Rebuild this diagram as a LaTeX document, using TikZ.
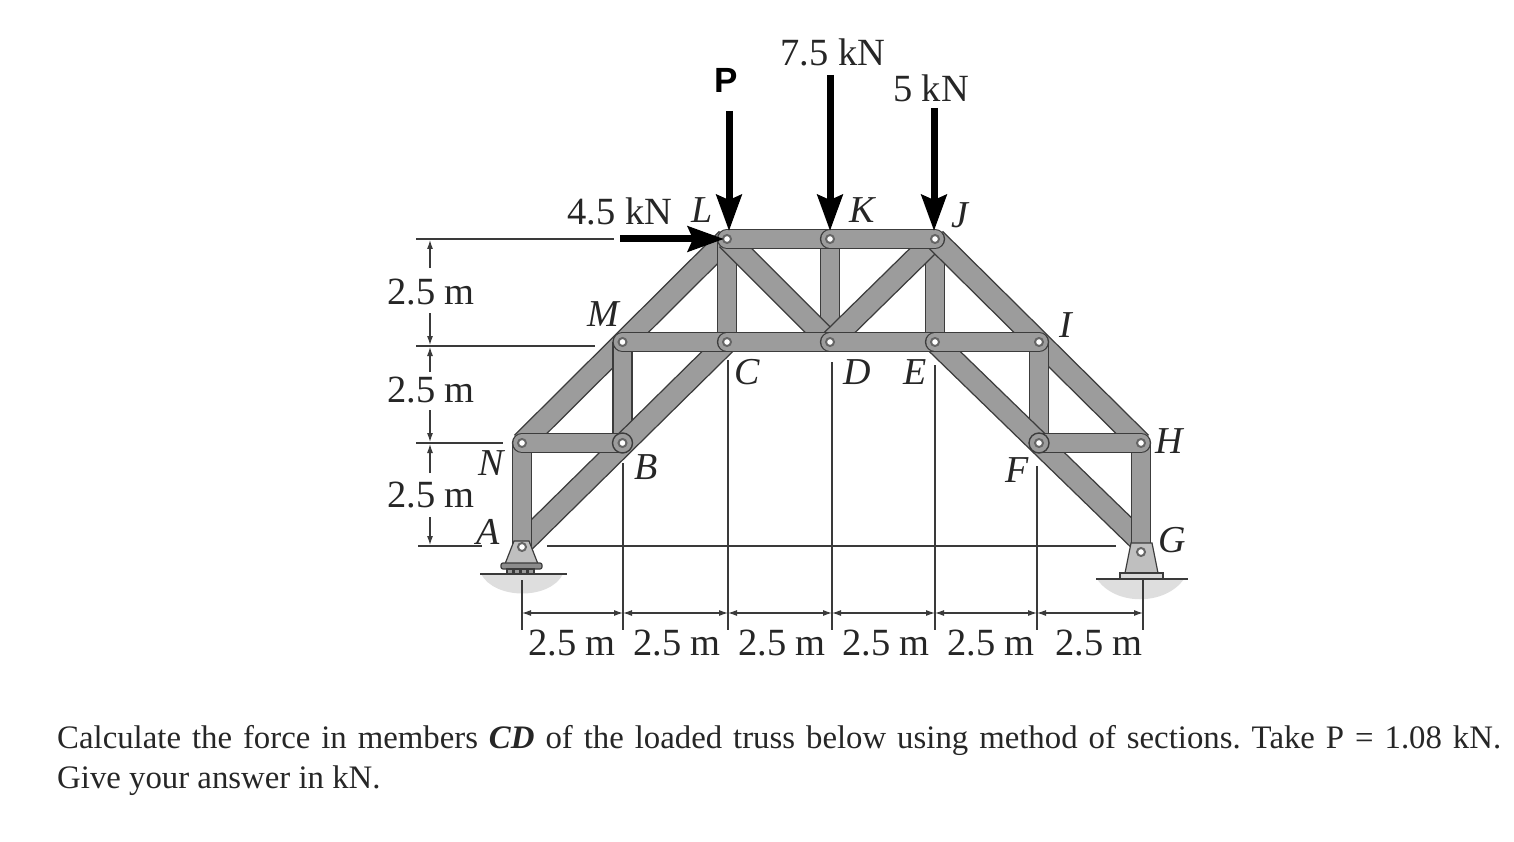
\documentclass[tikz,border=0pt]{standalone}
\usepackage{fontspec}
\setmainfont{Liberation Serif}
\setsansfont{Liberation Sans}
\usetikzlibrary{arrows.meta}
\definecolor{steel}{HTML}{9C9C9C}
\definecolor{steeledge}{HTML}{3C3C3C}
\definecolor{dimline}{HTML}{3A3A3A}
\tikzset{
    member/.style = {double=steel,double distance=17.5pt,line width=1.4pt,draw=steeledge},
    brace/.style = {member,double distance=20pt},
    chord/.style = {member,line cap=round},
    eye/.style = {circle,draw=black!60,fill=white,line width=2pt,inner sep=0pt,minimum size=8pt},
    gusset/.style = {circle,draw=steeledge,fill=steel,line width=1.4pt,inner sep=0pt,minimum size=20pt},
    load/.style = {line width=7pt,draw=black,-{Stealth[length=36pt,width=25pt,inset=5pt]}},
    dimen/.style = {line width=1.1pt,draw=dimline},
    dimarrow/.style = {dimen,{Latex[length=9pt,width=6pt]}-{Latex[length=9pt,width=6pt]}},
    dimtip/.style = {dimen,-{Latex[length=9pt,width=6pt]}},
    txt/.style = {inner sep=0pt,text=black!85,font=\fontsize{38.5}{40}\selectfont},
    tag/.style = {txt,font=\fontsize{38}{40}\selectfont\itshape},
    ground/.style = {fill=black!13,draw=none},
    bracket/.style = {fill=black!25,draw=steeledge,line width=1.2pt}
}
\begin{document}
\begin{tikzpicture}[x=1pt,y=-1pt]
    \useasboundingbox (0,0) rectangle (1514,842);
    % joints
    \coordinate (A) at (522,547);
    \coordinate (Afoot) at (522,544);
    \coordinate (N) at (522,443);
    \coordinate (B) at (622.5,443);
    \coordinate (M) at (622.5,342);
    \coordinate (C) at (727,342);
    \coordinate (D) at (830,342);
    \coordinate (E) at (935,342);
    \coordinate (I) at (1039,342);
    \coordinate (L) at (727,239);
    \coordinate (K) at (830,239);
    \coordinate (J) at (935,239);
    \coordinate (F) at (1039,443);
    \coordinate (H) at (1141,443);
    \coordinate (G) at (1141,552);
    \coordinate (Gfoot) at (1141,542);
    % ground
    \fill[ground] (481,574) .. controls (495,600) and (550,600) .. (563,574) -- cycle;
    \fill[ground] (1097,579) .. controls (1115,606) and (1165,606) .. (1184,579) -- cycle;
    % members, back to front
    \draw[brace] (N) -- (L);
    \draw[member] (L) -- (C);
    \draw[member] (K) -- (D);
    \draw[member] (J) -- (E);
    \draw[member] (B) -- (M);
    \draw[brace] (L) -- (D);
    \draw[brace] (J) -- (D);
    \draw[brace] (J) -- (H);
    \draw[member] (I) -- (F);
    \draw[brace] (Afoot) -- (C);
    \draw[brace] (E) -- (Gfoot);
    \draw[member] (A) -- (N);
    \draw[member] (H) -- (G);
    \draw[chord] (L) -- (K);
    \draw[chord] (K) -- (J);
    \draw[chord] (M) -- (C);
    \draw[chord] (C) -- (D);
    \draw[chord] (D) -- (E);
    \draw[chord] (E) -- (I);
    \draw[chord] (N) -- (B);
    \draw[chord] (F) -- (H);
    \node[gusset] (Bplate) at (B) {};
    \node[gusset] (Fplate) at (F) {};
    % supports
    \draw[bracket] (514,541) -- (529,541) -- (538,564) -- (505,564) -- cycle;
    \draw[bracket,fill=black!45,rounded corners=2pt] (501,563) rectangle (542,569);
    \foreach \x in {507,514,521,528}
        \draw[dimen,fill=black!40] (\x,569) rectangle ++(6,5);
    \draw[bracket] (1131,543) -- (1152,543) -- (1158,573) -- (1125,573) -- cycle;
    \draw[bracket,fill=black!15] (1120,573) rectangle (1163,579);
    \coordinate (gl0) at (480,574);
    \coordinate (gr0) at (567,574);
    \coordinate (gl1) at (1096,579);
    \coordinate (gr1) at (1188,579);
    \draw[dimen] (gl0) -- (gr0);
    \draw[dimen] (gl1) -- (gr1);
    % pins
    \foreach \j in {A,N,B,M,C,D,E,I,L,K,J,F,H,G}
        \node[eye] (pin\j) at (\j) {};
    % loads
    \coordinate (Ptail) at (729,111);
    \coordinate (Ptip) at (729,231);
    \coordinate (Ktail) at (830,75);
    \coordinate (Ktip) at (830,231);
    \coordinate (Jtail) at (934,108);
    \coordinate (Jtip) at (934,231);
    \coordinate (Htail) at (620,239);
    \coordinate (Htip) at (724,239);
    \draw[load] (Ptail) -- (Ptip);
    \draw[load] (Ktail) -- (Ktip);
    \draw[load] (Jtail) -- (Jtip);
    \draw[load] (Htail) -- (Htip);
    % dimension lines, left side
    \coordinate (e1a) at (416,239);
    \coordinate (e1b) at (614,239);
    \coordinate (e2a) at (416,346);
    \coordinate (e2b) at (595,346);
    \coordinate (e3a) at (416,443);
    \coordinate (e3b) at (503,443);
    \coordinate (e4a) at (418,546);
    \coordinate (e4b) at (482,546);
    \coordinate (e5a) at (547,546);
    \coordinate (e5b) at (1116,546);
    \draw[dimen] (e1a) -- (e1b);
    \draw[dimen] (e2a) -- (e2b);
    \draw[dimen] (e3a) -- (e3b);
    \draw[dimen] (e4a) -- (e4b);
    \draw[dimen] (e5a) -- (e5b);
    \foreach \n/\ya/\yb in {a/268/240,b/313/345,c/372/347,d/410/442,e/473/444,f/517/545}{
        \coordinate (v\n a) at (430,\ya);
        \coordinate (v\n b) at (430,\yb);
        \draw[dimtip] (v\n a) -- (v\n b);
    }
    % dimension lines, bottom
    \foreach \n/\x/\y in {0/522/580,1/623/463,2/728/360,3/832/362,4/935/365,5/1037/466,6/1143/580}{
        \coordinate (up\n) at (\x,\y);
        \coordinate (lo\n) at (\x,630);
        \coordinate (t\n) at (\x,613);
        \draw[dimen] (up\n) -- (lo\n);
    }
    \foreach \a/\b in {0/1,1/2,2/3,3/4,4/5,5/6}
        \draw[dimarrow] (t\a) -- (t\b);
    % labels
    \node[txt] (load75) at (833,52) {7.5 kN};
    \node[txt] (load5) at (931,88) {5 kN};
    \node[txt] (load45) at (620,211) {4.5 kN};
    \node[inner sep=0pt,font=\fontsize{35}{40}\selectfont\sffamily\bfseries] (loadP) at (726,80) {P};
    \node[txt] (dimL1) at (431,292) {2.5 m};
    \node[txt] (dimL2) at (431,390) {2.5 m};
    \node[txt] (dimL3) at (431,495) {2.5 m};
    \foreach \n/\x in {1/572,2/677,3/782,4/886,5/991,6/1099}
        \node[txt] (dimB\n) at (\x,643) {2.5 m};
    \node[tag] (tagL) at (702,210) {L};
    \node[tag] (tagK) at (862,210) {K};
    \node[tag] (tagJ) at (960,215) {J};
    \node[tag] (tagM) at (603,314) {M};
    \node[tag] (tagI) at (1066,325) {I};
    \node[tag] (tagC) at (747,372) {C};
    \node[tag] (tagD) at (857,372) {D};
    \node[tag] (tagE) at (915,372) {E};
    \node[tag] (tagN) at (491,463) {N};
    \node[tag] (tagA) at (488,532) {A};
    \node[tag] (tagB) at (646,467) {B};
    \node[tag] (tagF) at (1017,470) {F};
    \node[tag] (tagH) at (1169,441) {H};
    \node[tag] (tagG) at (1172,540) {G};
    % question
    \node[anchor=north west,inner sep=0pt,text width=1444pt,align=justify,text=black!85,
        font=\fontsize{32.8}{40}\selectfont\frenchspacing] (question) at (57,725)
        {Calculate the force in members \textbf{\textit{CD}} of the loaded truss below using method of sections. Take P = 1.08 kN.\linebreak Give your answer in kN.};
\end{tikzpicture}
\end{document}
